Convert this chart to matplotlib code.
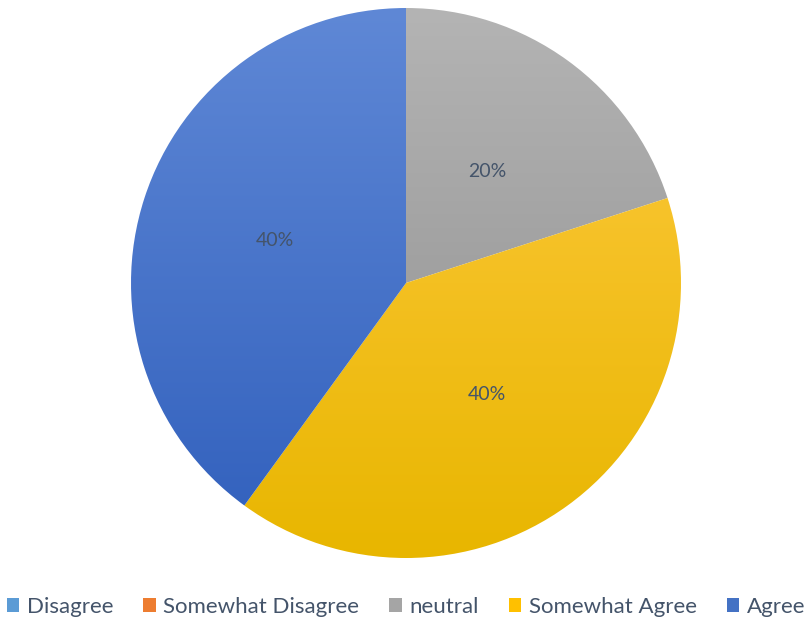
import numpy as np
import matplotlib
matplotlib.use("Agg")
import matplotlib.pyplot as plt
from matplotlib.colors import LinearSegmentedColormap
from matplotlib.patches import Patch

labels = ["Disagree", "Somewhat Disagree", "neutral", "Somewhat Agree", "Agree"]
values = [0, 0, 20, 40, 40]
colors = ["#5b9bd5", "#ed7d31", "#a5a5a5", "#ffc000", "#4472c4"]
# light (top) / dark (bottom) ends of the gradient fill
grad_top = ["#7fb2e0", "#f29a5c", "#b4b4b4", "#ffca42", "#5f88d6"]
grad_bot = ["#4a88c2", "#d86a20", "#8c8c8c", "#e8b600", "#305fbc"]

plt.rcParams["font.family"] = ["Lato", "DejaVu Sans"]
text_color = "#44546a"

fig = plt.figure(figsize=(8.12, 6.24), dpi=100)
ax = fig.add_axes([131 / 812, 66 / 624, 550 / 812, 550 / 624])

wedges, texts, autotexts = ax.pie(
    values, colors=colors, startangle=90, counterclock=False,
    autopct=lambda p: f"{p:.0f}%" if p > 0 else "", pctdistance=0.5,
    wedgeprops=dict(linewidth=0), textprops=dict(color=text_color, fontsize=14),
)

grad = np.linspace(0, 1, 256).reshape(-1, 1)
for w, c0, c1, v in zip(wedges, grad_top, grad_bot, values):
    if v == 0:
        continue
    cmap = LinearSegmentedColormap.from_list("g", [c0, c1])
    im = ax.imshow(grad, cmap=cmap, extent=(-1, 1, -1, 1), origin="upper",
                   aspect="auto", zorder=w.get_zorder())
    im.set_clip_path(w)
    w.set_facecolor("none")
for t in autotexts:
    t.set_zorder(5)

ax.set_xlim(-1, 1)
ax.set_ylim(-1, 1)
ax.set_aspect("equal")
ax.axis("off")

handles = [Patch(facecolor=c, edgecolor="none") for c in colors]
fig.legend(handles, labels, loc="center", bbox_to_anchor=(0.5, 1 - 607 / 624),
           ncol=5, frameon=False, fontsize=16, labelcolor=text_color,
           handlelength=0.55, handleheight=0.55, handletextpad=0.35, columnspacing=1.35)

fig.savefig("out.png", dpi=100)
